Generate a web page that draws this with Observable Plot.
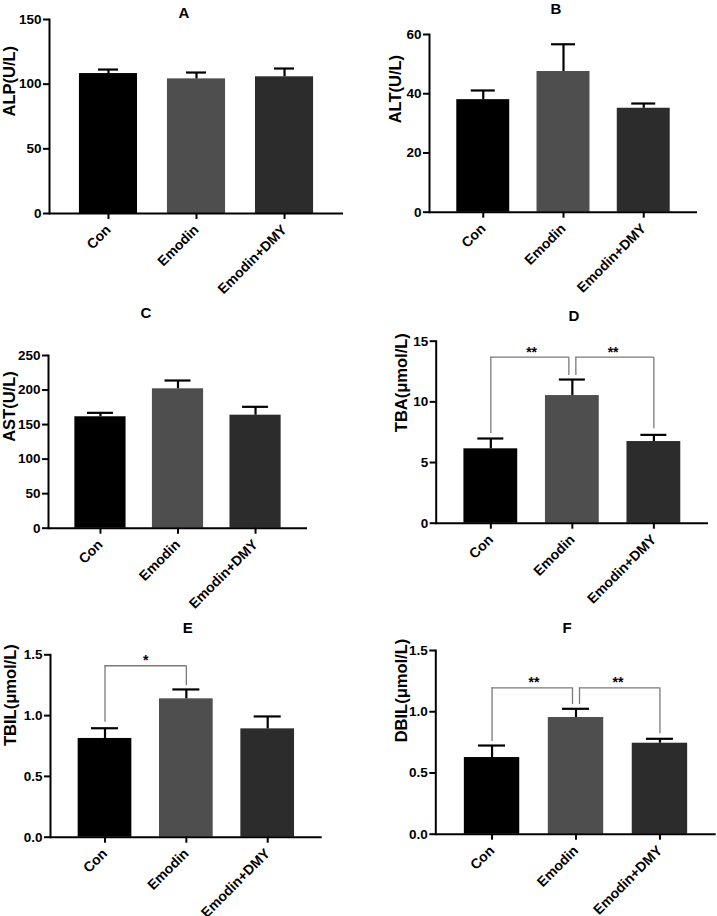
<!DOCTYPE html>
<html><head><meta charset="utf-8">
<script src="https://cdn.jsdelivr.net/npm/d3@7"></script>
<script src="https://cdn.jsdelivr.net/npm/@observablehq/plot@0.6"></script>
<style>
body{margin:0;background:#fff;}
#wrap{position:relative;width:717px;height:916px;font-family:'Liberation Sans',Arial,sans-serif;overflow:hidden;}
.panel{position:absolute;}
.ttl{position:absolute;transform:translate(-50%,-50%);font-weight:bold;font-size:15px;color:#000;line-height:1;}
</style></head><body><div id="wrap"></div>
<script>
// ---- data ----
const groups = ["Con", "Emodin", "Emodin+DMY"];
const barColors = ["#000000", "#4e4e4e", "#2c2c2c"];

const alpMean = [108.2, 104.1, 105.7];
const alpSem  = [3.1, 4.9, 6.4];
const altMean = [38.0, 47.5, 35.1];
const altSem  = [3.1, 9.2, 1.6];
const astMean = [161.3, 201.8, 163.6];
const astSem  = [5.7, 12.0, 12.1];
const tbaMean = [6.13, 10.52, 6.73];
const tbaSem  = [0.85, 1.32, 0.55];
const tbilMean = [0.812, 1.138, 0.891];
const tbilSem  = [0.084, 0.077, 0.102];
const dbilMean = [0.626, 0.953, 0.743];
const dbilSem  = [0.098, 0.071, 0.036];

const alpTicks = [0, 50, 100, 150];
const altTicks = [0, 20, 40, 60];
const astTicks = [0, 50, 100, 150, 200, 250];
const tbaTicks = [0, 5, 10, 15];
const bilTicks = [0, 0.5, 1.0, 1.5];
const alpTickLabels = ["0", "50", "100", "150"];
const altTickLabels = ["0", "20", "40", "60"];
const astTickLabels = ["0", "50", "100", "150", "200", "250"];
const tbaTickLabels = ["0", "5", "10", "15"];
const bilTickLabels = ["0.0", "0.5", "1.0", "1.5"];

const tbaBrackets = [
  {from: "Con", to: "Emodin", y: 13.68, yFrom: 7.4, yTo: 12.17, label: "**"},
  {from: "Emodin", to: "Emodin+DMY", y: 13.68, yFrom: 12.17, yTo: 7.78, label: "**"}
];
const tbilBrackets = [
  {from: "Con", to: "Emodin", y: 1.41, yFrom: 0.946, yTo: 1.247, label: "*"}
];
const dbilBrackets = [
  {from: "Con", to: "Emodin", y: 1.195, yFrom: 0.757, yTo: 1.059, label: "**"},
  {from: "Emodin", to: "Emodin+DMY", y: 1.195, yFrom: 1.059, yTo: 0.82, label: "**"}
];

// ---- panels (layout kept separate from data) ----
const panels = [
  {title: "A", label: "ALP(U/L)", mean: alpMean, sem: alpSem, ticks: alpTicks, tickLabels: alpTickLabels, max: 150, brackets: [],
   box: [0, 0, 358, 300], axis: {x: 49, top: 19, zero: 213, right: 343}, titleAt: [184, 12], labelX: 9.5, cap: 20},
  {title: "B", label: "ALT(U/L)", mean: altMean, sem: altSem, ticks: altTicks, tickLabels: altTickLabels, max: 60, brackets: [],
   box: [358, 0, 359, 300], axis: {x: 429, top: 34, zero: 211.7, right: 697}, titleAt: [556, 8], labelX: 395.5, cap: 24},
  {title: "C", label: "AST(U/L)", mean: astMean, sem: astSem, ticks: astTicks, tickLabels: astTickLabels, max: 250, brackets: [],
   box: [0, 300, 358, 310], axis: {x: 48, top: 355, zero: 527.7, right: 307}, titleAt: [146, 312], labelX: 9.5, cap: 26},
  {title: "D", label: "TBA(μmol/L)", mean: tbaMean, sem: tbaSem, ticks: tbaTicks, tickLabels: tbaTickLabels, max: 15, brackets: tbaBrackets,
   box: [358, 300, 359, 310], axis: {x: 435.7, top: 340.7, zero: 522.7, right: 708}, titleAt: [574, 315], labelX: 401.5, cap: 26},
  {title: "E", label: "TBIL(μmol/L)", mean: tbilMean, sem: tbilSem, ticks: bilTicks, tickLabels: bilTickLabels, max: 1.5, brackets: tbilBrackets,
   box: [0, 610, 358, 306], axis: {x: 50, top: 654.3, zero: 836.7, right: 321.7}, titleAt: [187.7, 627], labelX: 10.5, cap: 27},
  {title: "F", label: "DBIL(μmol/L)", mean: dbilMean, sem: dbilSem, ticks: bilTicks, tickLabels: bilTickLabels, max: 1.5, brackets: dbilBrackets,
   box: [358, 610, 359, 306], axis: {x: 435.3, top: 650, zero: 833.7, right: 715.7}, titleAt: [567, 627], labelX: 401.5, cap: 27}
];

const PAD = 0.34;
const GAP = 3.5;
const wrap = document.getElementById("wrap");

for (const p of panels) {
  const [left, top, w, h] = p.box;
  const ml = p.axis.x - left;
  const mr = left + w - p.axis.right;
  const mt = p.axis.top - top;
  const mb = top + h - p.axis.zero;
  const band = d3.scaleBand().domain(groups).range([ml, w - mr]).paddingInner(PAD).paddingOuter(PAD).align(0.5);
  const bw = band.bandwidth();
  const step = band.step();
  const capInset = (bw - p.cap) / 2;
  const rows = groups.map((g, i) => ({group: g, mean: p.mean[i], top: p.mean[i] + p.sem[i]}));
  const fmt = new Map(p.ticks.map((t, i) => [t, p.tickLabels[i]]));

  const bracketMarks = [];
  for (const b of p.brackets) {
    const shared = (cat) => p.brackets.some(o => o !== b && (o.from === cat || o.to === cat));
    const offFrom = shared(b.from) ? GAP : 0;
    const offTo = shared(b.to) ? -GAP : 0;
    const st = {stroke: "#7a7a7a", strokeWidth: 1.3};
    bracketMarks.push(
      Plot.ruleX([b], {x: d => d.from, y1: d => d.yFrom, y2: d => d.y, dx: offFrom, ...st}),
      Plot.ruleX([b], {x: d => d.to, y1: d => d.yTo, y2: d => d.y, dx: offTo, ...st}),
      Plot.ruleY([b], {y: d => d.y, x1: d => d.from, x2: d => d.to, insetLeft: bw / 2 + offFrom, insetRight: bw / 2 - offTo, ...st}),
      Plot.text([b], {x: d => d.from, y: d => d.y, text: d => d.label, dx: step / 2, dy: -5, fontSize: 14, fontWeight: "bold", fill: "#000"})
    );
  }

  const chart = Plot.plot({
    width: w, height: h,
    marginLeft: ml, marginRight: mr, marginTop: mt, marginBottom: mb,
    style: {fontFamily: "'Liberation Sans', Arial, sans-serif", fontSize: "13px", fontWeight: "bold", color: "#000", background: "transparent", overflow: "visible"},
    x: {type: "band", domain: groups, paddingInner: PAD, paddingOuter: PAD, align: 0.5, round: false, label: null},
    y: {domain: [0, p.max], label: null},
    color: {domain: groups, range: barColors},
    marks: [
      Plot.barY(rows, {x: "group", y: "mean", fill: "group"}),
      Plot.ruleX(rows, {x: "group", y1: "mean", y2: "top", stroke: "#000", strokeWidth: 2.2}),
      Plot.tickY(rows, {x: "group", y: "top", stroke: "#000", strokeWidth: 2.2, insetLeft: capInset, insetRight: capInset}),
      ...bracketMarks,
      Plot.axisY({ticks: p.ticks, tickFormat: d => fmt.get(d), tickSize: 6, tickPadding: 2, strokeWidth: 2, label: null, fontSize: 13.5, fontWeight: "bold"}),
      Plot.axisX({tickRotate: -45, tickSize: 6, tickPadding: 8, strokeWidth: 2, label: null, fontSize: 14, fontWeight: "bold"}),
      Plot.frame({anchor: "left", strokeWidth: 2}),
      Plot.ruleY([0], {strokeWidth: 2}),
      Plot.text([p.label], {text: d => d, frameAnchor: "left", rotate: -90, dx: p.labelX - p.axis.x, fontSize: 16.5, fontWeight: "bold", fill: "#000"})
    ]
  });
  const holder = document.createElement("div");
  holder.className = "panel";
  holder.style.left = left + "px";
  holder.style.top = top + "px";
  holder.appendChild(chart);
  wrap.appendChild(holder);

  const t = document.createElement("div");
  t.className = "ttl";
  t.style.left = p.titleAt[0] + "px";
  t.style.top = p.titleAt[1] + "px";
  t.textContent = p.title;
  wrap.appendChild(t);
}
</script>
</body></html>
